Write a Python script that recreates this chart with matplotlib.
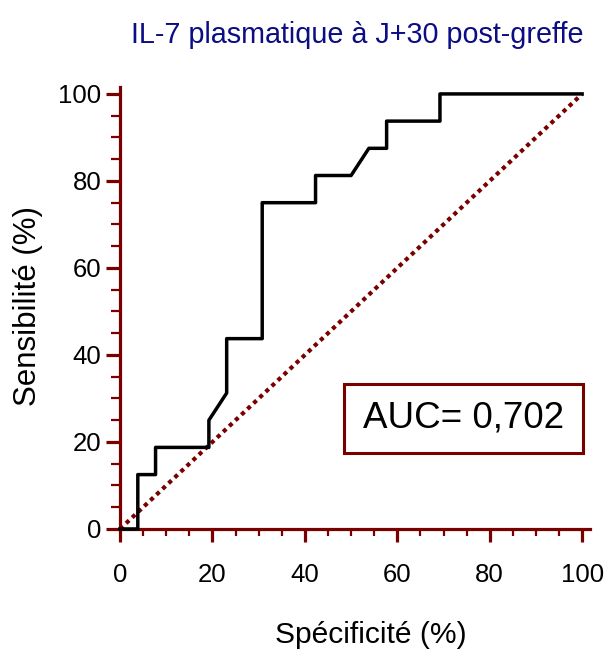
import matplotlib
matplotlib.use("Agg")
import matplotlib.pyplot as plt
from matplotlib.patches import Rectangle

# ROC curve (x = 100 - specificity, y = sensitivity, in %)
roc_x = [0, 3.85, 3.85, 7.69, 7.69, 19.23, 19.23, 23.08, 23.08, 30.77, 30.77,
         42.31, 42.31, 50.0, 53.85, 57.69, 57.69, 69.23, 69.23, 100]
roc_y = [0, 0, 12.5, 12.5, 18.75, 18.75, 25.0, 31.25, 43.75, 43.75, 75.0,
         75.0, 81.25, 81.25, 87.5, 87.5, 93.75, 93.75, 100, 100]
ref_x = [0, 100]
ref_y = [0, 100]
ticks = [0, 20, 40, 60, 80, 100]
auc_label = "AUC= 0,702"
title = "IL-7 plasmatique à J+30 post-greffe"

maroon = "#7a0000"
plt.rcParams["font.family"] = ["Liberation Sans", "DejaVu Sans"]

fig = plt.figure(figsize=(6.08, 6.5), dpi=100)
ax = fig.add_axes([0.1974, 0.1862, 0.773, 0.68])

ax.plot(ref_x, ref_y, color=maroon, lw=3.0, dashes=(1, 1), clip_on=False, zorder=2)
ax.plot(roc_x, roc_y, color="black", lw=2.5, clip_on=False, zorder=3)

ax.set_xlim(0, 101.7)
ax.set_ylim(0, 101.6)
ax.set_xticks(ticks)
ax.set_yticks(ticks)
ax.set_xticks(range(0, 101, 5), minor=True)
ax.set_yticks(range(0, 101, 5), minor=True)

for side in ["top", "right"]:
    ax.spines[side].set_visible(False)
for side in ["left", "bottom"]:
    ax.spines[side].set_color(maroon)
    ax.spines[side].set_linewidth(2.3)

ax.tick_params(axis="both", which="major", direction="out", color=maroon,
               width=2.3, labelsize=18.5)
ax.tick_params(axis="both", which="minor", direction="out", color=maroon, width=1.6)
ax.tick_params(axis="x", which="major", length=9.5, pad=15)
ax.tick_params(axis="x", which="minor", length=5)
ax.tick_params(axis="y", which="major", length=10, pad=3.5)
ax.tick_params(axis="y", which="minor", length=6.5)

# AUC box
ax.add_patch(Rectangle((48.5, 17.5), 51.7, 15.9, fill=False, edgecolor=maroon,
                       lw=2.2, zorder=4))
ax.text(74.3, 25.5, auc_label, ha="center", va="center", fontsize=26.5, zorder=5)

fig.text(357 / 608, 1 - 35 / 650, title, ha="center", va="center",
         fontsize=20.7, color="#0c0c84")
fig.text(371 / 608, 1 - 635 / 650, "Spécificité (%)", ha="center", va="center",
         fontsize=21.6)
fig.text(28 / 608, 1 - 306 / 650, "Sensibilité (%)", ha="center", va="center",
         fontsize=22.5, rotation=90)

fig.savefig("out.png", dpi=100)
